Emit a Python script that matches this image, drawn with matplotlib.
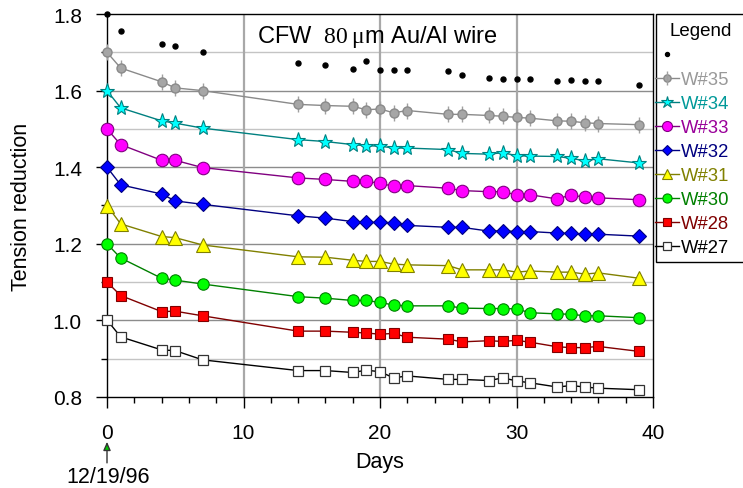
import matplotlib
matplotlib.use('Agg')
import matplotlib.pyplot as plt
from matplotlib.patches import Rectangle
from matplotlib.ticker import MultipleLocator
from matplotlib.transforms import Affine2D

plt.rcParams['font.family'] = ['Liberation Sans', 'DejaVu Sans']
plt.rcParams['mathtext.fontset'] = 'custom'
plt.rcParams['mathtext.rm'] = 'Liberation Serif'

# ---------------- data ----------------
days = [0, 1, 4, 5, 7, 14, 16, 18, 19, 20, 21, 22, 25, 26, 28, 29, 30, 31, 33, 34, 35, 36, 39]

w_top = [1.800, 1.756, 1.722, 1.716, 1.702, 1.672, 1.668, 1.657, 1.676, 1.654, 1.654, 1.653,
         1.650, 1.641, 1.633, 1.630, 1.630, 1.631, 1.625, 1.628, 1.624, 1.624, 1.615]
w35 = [1.700, 1.659, 1.623, 1.607, 1.600, 1.564, 1.561, 1.559, 1.550, 1.552, 1.542, 1.548,
       1.538, 1.538, 1.535, 1.533, 1.530, 1.528, 1.521, 1.520, 1.516, 1.514, 1.511]
w34 = [1.600, 1.555, 1.521, 1.515, 1.502, 1.472, 1.467, 1.459, 1.456, 1.455, 1.450, 1.450,
       1.446, 1.436, 1.434, 1.438, 1.430, 1.429, 1.428, 1.423, 1.417, 1.422, 1.411]
w33 = [1.500, 1.459, 1.418, 1.418, 1.399, 1.372, 1.368, 1.363, 1.363, 1.358, 1.350, 1.352,
       1.345, 1.339, 1.336, 1.336, 1.328, 1.328, 1.317, 1.328, 1.321, 1.320, 1.315]
w32 = [1.400, 1.354, 1.330, 1.312, 1.303, 1.273, 1.267, 1.258, 1.256, 1.256, 1.255, 1.248,
       1.243, 1.243, 1.233, 1.234, 1.232, 1.232, 1.228, 1.227, 1.225, 1.225, 1.220]
w31 = [1.300, 1.252, 1.219, 1.216, 1.197, 1.166, 1.165, 1.157, 1.154, 1.154, 1.147, 1.145,
       1.143, 1.132, 1.132, 1.132, 1.126, 1.129, 1.126, 1.126, 1.121, 1.124, 1.110]
w30 = [1.200, 1.163, 1.110, 1.105, 1.095, 1.062, 1.058, 1.052, 1.052, 1.047, 1.040, 1.038,
       1.038, 1.032, 1.031, 1.031, 1.030, 1.020, 1.017, 1.016, 1.012, 1.012, 1.007]
w28 = [1.100, 1.065, 1.023, 1.024, 1.012, 0.972, 0.972, 0.969, 0.967, 0.964, 0.966, 0.956,
       0.951, 0.944, 0.947, 0.945, 0.948, 0.943, 0.931, 0.929, 0.929, 0.932, 0.919]
w27 = [1.001, 0.957, 0.923, 0.921, 0.897, 0.869, 0.869, 0.864, 0.870, 0.866, 0.850, 0.855,
       0.846, 0.846, 0.843, 0.850, 0.842, 0.837, 0.826, 0.830, 0.826, 0.823, 0.819]

labels = ['W#35', 'W#34', 'W#33', 'W#32', 'W#31', 'W#30', 'W#28', 'W#27']
x_ticks = [0, 10, 20, 30, 40]
y_ticks = [0.8, 1.0, 1.2, 1.4, 1.6, 1.8]

# ---------------- figure ----------------
W, H = 743, 489
fig = plt.figure(figsize=(W / 100, H / 100), dpi=100)
ax = fig.add_axes([107 / W, 1 - 398 / H, (653 - 107) / W, (398 - 15) / H])
# transform: pixels measured from the top-left corner of the figure
px = Affine2D().scale(1, -1).translate(0, H)

ax.set_xlim(0, 40)
ax.set_ylim(0.8, 1.8)
ax.set_xticks(x_ticks)
ax.xaxis.set_minor_locator(MultipleLocator(2))
ax.set_yticks(y_ticks)
ax.set_yticklabels([f'{v:.1f}' for v in y_ticks])
ax.yaxis.set_minor_locator(MultipleLocator(0.1))

# grid
for v in [0.9, 1.1, 1.3, 1.5, 1.7]:
    ax.axhline(v, color='#c4c4c4', lw=1.0, zorder=0)
for v in [1.0, 1.2, 1.4, 1.6]:
    ax.axhline(v, color='#8c8c8c', lw=1.0, zorder=0)
for v in [10, 20, 30]:
    ax.axvline(v, color='#a8a8a8', lw=1.6, zorder=0)

ax.tick_params(axis='both', which='major', direction='out', length=8, width=1,
               labelsize=15, pad=10, color='black')
ax.tick_params(axis='x', which='major', pad=11)
ax.tick_params(axis='x', which='minor', direction='out', length=4.5, width=1)
ax.tick_params(axis='y', which='minor', direction='out', length=4.5, width=1)
for s in ax.spines.values():
    s.set_color('black')
    s.set_linewidth(1.0)

common = dict(clip_on=False, zorder=3)

# top unlabeled series (black dots)
h_top, = ax.plot(days, w_top, ls='none', marker='o', ms=3.6, color='black', **common)

# W#35 gray circles with small vertical bars
h35, = ax.plot(days, w35, color='#8a8a8a', lw=1.0, marker='o', ms=6.5,
               mfc='#a6a6a6', mec='#8a8a8a', **common)
h35b, = ax.plot(days, w35, ls='none', marker='|', ms=12, mew=1.0, color='#a0a0a0',
                clip_on=False, zorder=2.9)
h34, = ax.plot(days, w34, color='#008080', lw=1.0, marker='*', ms=11,
               mfc='#00ffff', mec='#008080', mew=0.8, **common)
h33, = ax.plot(days, w33, color='#800080', lw=1.0, marker='o', ms=9,
               mfc='#ff00ff', mec='#800080', mew=0.8, **common)
h32, = ax.plot(days, w32, color='#000080', lw=1.0, marker='D', ms=6.8,
               mfc='#0000ff', mec='#000080', mew=0.8, **common)
h31, = ax.plot(days, w31, color='#808000', lw=1.0, marker='^', ms=9.5,
               mfc='#ffff00', mec='#808000', mew=0.8, **common)
h30, = ax.plot(days, w30, color='#008000', lw=1.0, marker='o', ms=8.2,
               mfc='#00ff00', mec='#008000', mew=0.8, **common)
h28, = ax.plot(days, w28, color='#800000', lw=1.0, marker='s', ms=7.8,
               mfc='#ff0000', mec='#800000', mew=0.8, **common)
h27, = ax.plot(days, w27, color='black', lw=1.0, marker='s', ms=7.8,
               mfc='white', mec='#333333', mew=0.9, **common)

ax.set_xlabel('Days', fontsize=15.5, labelpad=6)
ax.set_ylabel('Tension reduction', fontsize=15.5, labelpad=15)

# title text inside plot
fig.text(257, 37, r'CFW  $\mathrm{80\,\mu}$m Au/Al wire', transform=px, fontsize=17,
         ha='left', va='center')

# date annotation
fig.text(108, 478, '12/19/96', transform=px, fontsize=15.5, ha='center', va='center')
ax.annotate('', xy=(0, -0.117), xycoords=('data', 'axes fraction'),
            xytext=(0, -0.172), textcoords=('data', 'axes fraction'),
            arrowprops=dict(arrowstyle='-|>,head_length=0.5,head_width=0.22',
                            fc='#00cc00', ec='#333333', lw=1.0, shrinkA=0, shrinkB=0))

# legend frame
fig.patches.append(Rectangle((656 / W, 1 - 263 / H), 0.2, (263 - 15) / H,
                             transform=fig.transFigure, fill=True, fc='white',
                             ec='black', lw=1.0, zorder=0))
fig.text(701, 32, 'Legend', transform=px, fontsize=13.5, ha='center', va='center')

handles = [h_top, (h35, h35b), h34, h33, h32, h31, h30, h28, h27]
leg_labels = [''] + labels
leg = fig.legend(handles, leg_labels, loc='upper left',
                 bbox_to_anchor=(655 / W, 1 - 48 / H), frameon=False,
                 fontsize=13.3, handlelength=1.3, handletextpad=0.1,
                 labelspacing=0.38, borderpad=0.0, borderaxespad=0.0,
                 markerscale=0.8)
text_colors = ['black', '#999999', '#009999', '#990099', '#000080', '#808000',
               '#008000', '#800000', 'black']
for t, c in zip(leg.get_texts(), text_colors):
    t.set_color(c)

fig.savefig('out.png', dpi=100)
